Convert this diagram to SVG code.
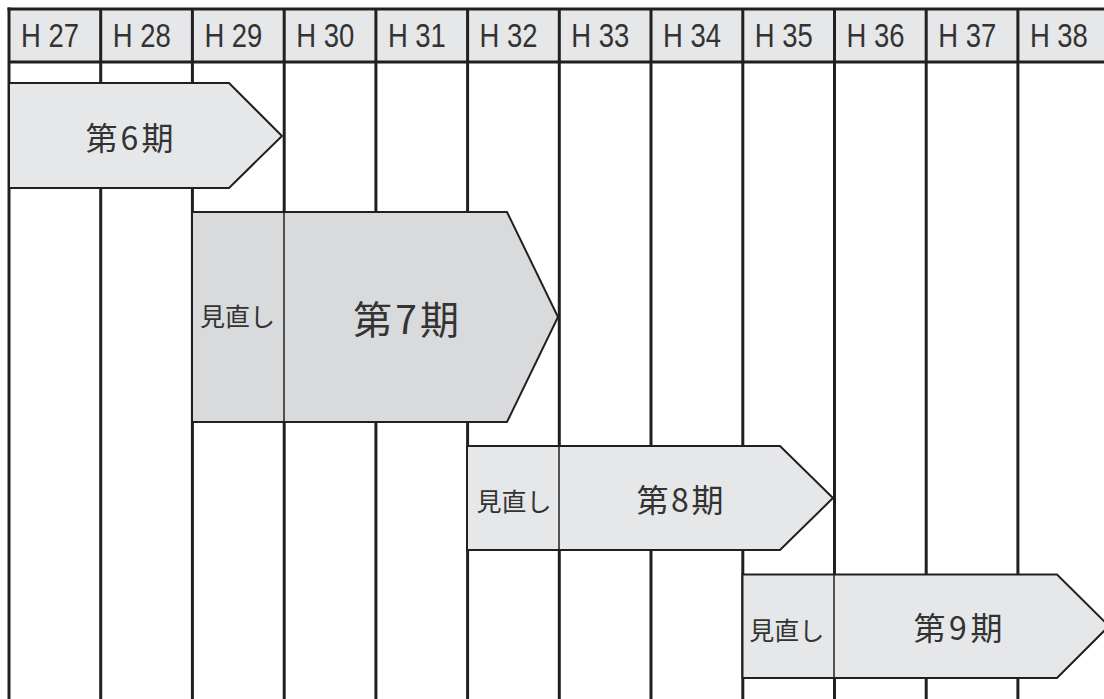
<svg xmlns="http://www.w3.org/2000/svg" width="1104" height="699" viewBox="0 0 1104 699">
<style>
.grid{stroke:#231f20;stroke-width:3;fill:none}
.hdr{fill:#e6e7e9;stroke:none}
.hl{font-family:"Liberation Sans","Noto Sans CJK JP",sans-serif;font-size:33px;fill:#333333}
.shape{stroke:#231f20;stroke-width:2;stroke-linejoin:miter}
.light{fill:#e6e7e9}
.dark{fill:#d9dadc}
.div{stroke:#231f20;stroke-width:1.5}
.lbl{font-family:"Noto Sans CJK JP","Noto Sans CJK SC",sans-serif;fill:#333333;text-anchor:middle;dominant-baseline:central}
</style>
<rect width="1104" height="699" fill="#ffffff"/>
<g id="header">
<rect class="hdr" x="9" y="9" width="1095" height="53"/>
<g class="hl">
<text x="21" y="47" textLength="58" lengthAdjust="spacingAndGlyphs">H 27</text>
<text x="112.7" y="47" textLength="58" lengthAdjust="spacingAndGlyphs">H 28</text>
<text x="204.4" y="47" textLength="58" lengthAdjust="spacingAndGlyphs">H 29</text>
<text x="296.2" y="47" textLength="58" lengthAdjust="spacingAndGlyphs">H 30</text>
<text x="387.9" y="47" textLength="58" lengthAdjust="spacingAndGlyphs">H 31</text>
<text x="479.6" y="47" textLength="58" lengthAdjust="spacingAndGlyphs">H 32</text>
<text x="571.3" y="47" textLength="58" lengthAdjust="spacingAndGlyphs">H 33</text>
<text x="663" y="47" textLength="58" lengthAdjust="spacingAndGlyphs">H 34</text>
<text x="754.8" y="47" textLength="58" lengthAdjust="spacingAndGlyphs">H 35</text>
<text x="846.5" y="47" textLength="58" lengthAdjust="spacingAndGlyphs">H 36</text>
<text x="938.2" y="47" textLength="58" lengthAdjust="spacingAndGlyphs">H 37</text>
<text x="1029.9" y="47" textLength="58" lengthAdjust="spacingAndGlyphs">H 38</text>
</g>
</g>
<g id="grid" class="grid">
<line x1="7.5" y1="9" x2="1104" y2="9"/>
<line x1="9" y1="62" x2="1104" y2="62"/>
<line x1="9" y1="7.5" x2="9" y2="699"/>
<line x1="100.7" y1="9" x2="100.7" y2="699"/>
<line x1="192.4" y1="9" x2="192.4" y2="699"/>
<line x1="284.2" y1="9" x2="284.2" y2="699"/>
<line x1="375.9" y1="9" x2="375.9" y2="699"/>
<line x1="467.6" y1="9" x2="467.6" y2="699"/>
<line x1="559.3" y1="9" x2="559.3" y2="699"/>
<line x1="651" y1="9" x2="651" y2="699"/>
<line x1="742.8" y1="9" x2="742.8" y2="699"/>
<line x1="834.5" y1="9" x2="834.5" y2="699"/>
<line x1="926.2" y1="9" x2="926.2" y2="699"/>
<line x1="1017.9" y1="9" x2="1017.9" y2="699"/>
</g>
<g id="period6">
<polygon class="shape light" points="9,83 229,83 282,136 229,188 9,188"/>
<text class="lbl" x="129.5" y="136" font-size="32" textLength="88" lengthAdjust="spacing">第6期</text>
</g>
<g id="period7">
<polygon class="shape dark" points="192,212 507,212 558,317 507,422 192,422"/>
<line class="div" x1="284" y1="212" x2="284" y2="422"/>
<text class="lbl" x="237.5" y="315" font-size="25" textLength="75" lengthAdjust="spacing">見直し</text>
<text class="lbl" x="406" y="317" font-size="39" textLength="106" lengthAdjust="spacing">第7期</text>
</g>
<g id="period8">
<polygon class="shape light" points="467,446 780,446 833,498 780,550 467,550"/>
<line class="div" x1="559" y1="446" x2="559" y2="550"/>
<text class="lbl" x="514" y="500" font-size="25" textLength="75" lengthAdjust="spacing">見直し</text>
<text class="lbl" x="680" y="498" font-size="32" textLength="87" lengthAdjust="spacing">第8期</text>
</g>
<g id="period9">
<polygon class="shape light" points="742.5,574.5 1057,574.5 1109,626 1057,678 742.5,678"/>
<line class="div" x1="834" y1="574.5" x2="834" y2="678"/>
<text class="lbl" x="786.7" y="628.5" font-size="25" textLength="75" lengthAdjust="spacing">見直し</text>
<text class="lbl" x="958" y="626" font-size="32" textLength="89" lengthAdjust="spacing">第9期</text>
</g>
</svg>
